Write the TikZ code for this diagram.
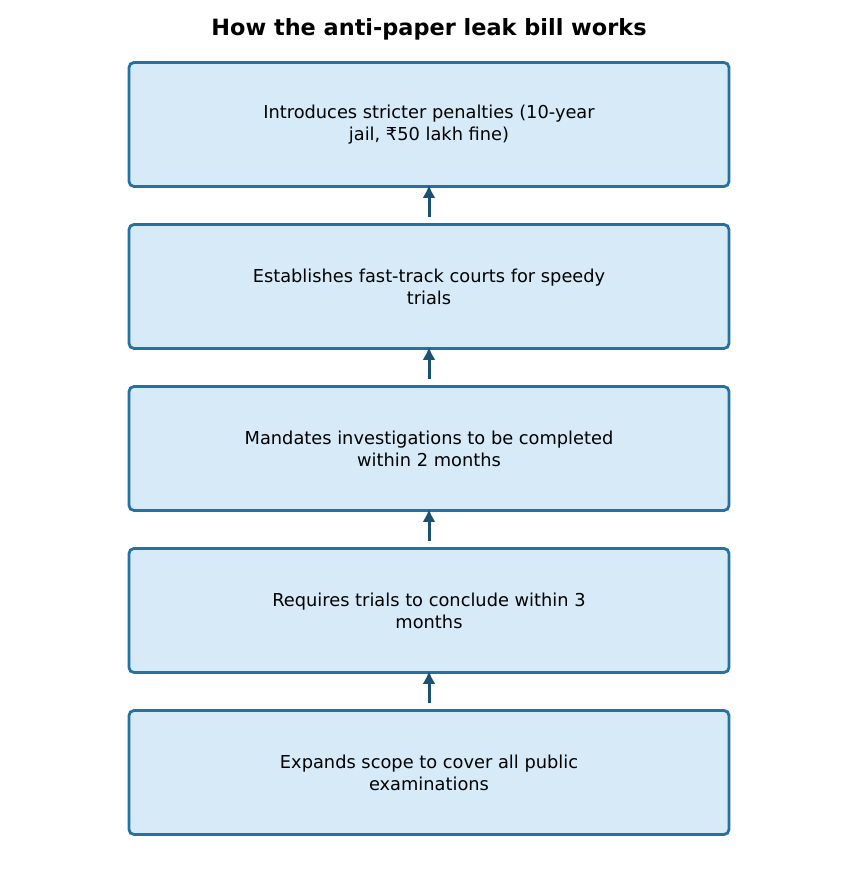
\documentclass[tikz,border=0pt]{standalone}
\usepackage{fontspec}
\setmainfont{DejaVu Sans}
\usepackage{tikz}
\usetikzlibrary{arrows.meta}
\definecolor{boxfill}{RGB}{214,234,248}
\definecolor{boxline}{RGB}{36,113,163}
\definecolor{arrowcol}{RGB}{26,82,118}
\tikzset{
  stepbox/.style={draw=boxline,fill=boxfill,rounded corners=5pt,line width=2.8pt,
    minimum width=600pt,minimum height=124pt,align=center,
    font=\fontsize{17.8}{22}\selectfont},
  upflow/.style={-{Latex[length=13pt,width=13pt]},line width=3pt,arrowcol,shorten >=-3pt}
}
\begin{document}
\begin{tikzpicture}[x=1pt,y=1pt]
  \useasboundingbox (0,0) rectangle (858,877);
  \node[font=\fontsize{22.4}{26}\selectfont\bfseries] (title) at (429,848) {How the anti-paper leak bill works};
  \foreach \i/\t in {
    1/{Introduces stricter penalties (10-year\\jail, ₹50 lakh fine)},
    2/{Establishes fast-track courts for speedy\\trials},
    3/{Mandates investigations to be completed\\within 2 months},
    4/{Requires trials to conclude within 3\\months},
    5/{Expands scope to cover all public\\examinations}}{
    \node[stepbox] (s\i) at (429,{914.5-162*\i}) {\t};
  }
  \foreach \i [evaluate=\i as \j using int(\i+1)] in {1,2,3,4}{
    \draw[upflow] ([yshift=6pt]s\j.north) -- (s\i.south);
  }
\end{tikzpicture}
\end{document}
